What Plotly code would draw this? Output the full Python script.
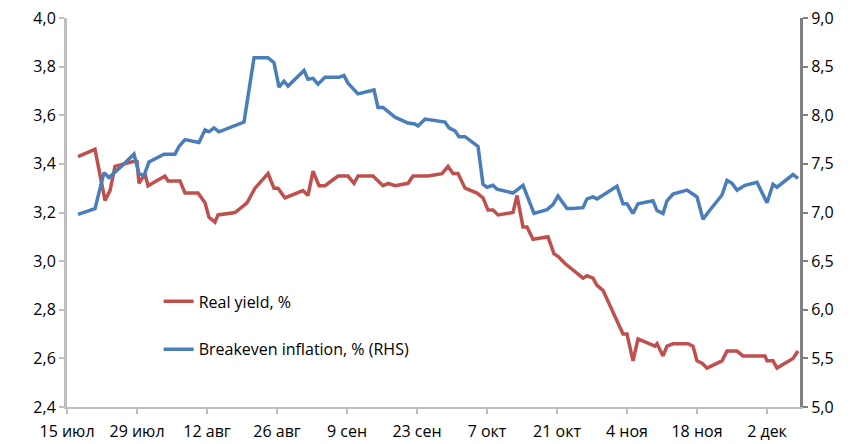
import plotly.graph_objects as go

# days since 15 Jul
ry_days = [2.2, 5.6, 7.6, 8.6, 9.6, 13.2, 14.0, 14.4, 15.6, 16.2, 19.6, 20.2, 22.6, 23.6,
           26.2, 27.6, 28.4, 29.6, 30.2, 33.6, 36.0, 37.6, 40.2, 41.4, 42.2, 43.6, 47.2,
           48.2, 49.2, 50.4, 51.6, 54.2, 56.2, 57.4, 58.2, 61.2, 63.2, 64.2, 65.6, 68.2,
           69.2, 70.6, 72.2, 75.0, 76.2, 77.2, 78.2, 79.6, 82.0, 83.2, 84.2, 85.2, 86.2,
           89.2, 90.0, 91.2, 92.0, 93.2, 96.2, 97.4, 98.2, 99.6, 103.2, 104.0, 105.2,
           106.0, 107.2, 111.2, 112.0, 113.2, 114.2, 117.6, 118.0, 119.2, 120.0, 121.2,
           124.2, 125.2, 126.0, 127.0, 128.0, 131.0, 132.0, 133.0, 134.0, 135.2, 138.6,
           139.6, 140.0, 141.2, 142.0, 145.2, 146.2]
real_yield = [3.43, 3.46, 3.25, 3.29, 3.39, 3.41, 3.41, 3.32, 3.36, 3.31, 3.35, 3.33, 3.33, 3.28,
              3.28, 3.24, 3.18, 3.16, 3.19, 3.20, 3.24, 3.30, 3.36, 3.30, 3.30, 3.26, 3.29,
              3.27, 3.37, 3.31, 3.31, 3.35, 3.35, 3.32, 3.35, 3.35, 3.31, 3.32, 3.31, 3.32,
              3.35, 3.35, 3.35, 3.36, 3.39, 3.36, 3.36, 3.30, 3.28, 3.26, 3.21, 3.21, 3.19,
              3.20, 3.27, 3.14, 3.14, 3.09, 3.10, 3.03, 3.02, 2.99, 2.93, 2.94, 2.93,
              2.90, 2.88, 2.70, 2.70, 2.59, 2.68, 2.65, 2.66, 2.61, 2.65, 2.66,
              2.66, 2.65, 2.59, 2.58, 2.56, 2.59, 2.63, 2.63, 2.63, 2.61, 2.61,
              2.61, 2.59, 2.59, 2.56, 2.60, 2.63]

be_days = [2.2, 5.6, 7.4, 8.4, 11.0, 13.4, 14.4, 15.4, 16.4, 19.4, 21.6, 22.4, 23.6, 26.4,
           27.6, 28.4, 29.4, 30.4, 35.4, 36.4, 37.4, 40.2, 41.4, 42.4, 43.4, 44.2, 47.4,
           48.2, 49.2, 50.2, 51.6, 54.4, 55.4, 56.2, 57.4, 58.2, 61.4, 62.2, 63.2, 65.6,
           68.2, 69.6, 70.2, 71.6, 75.6, 76.4, 77.6, 78.4, 79.6, 82.2, 83.2, 84.0, 85.2,
           86.0, 89.2, 91.2, 93.4, 96.0, 97.2, 98.2, 100.0, 101.0, 103.2, 104.0, 105.2,
           106.0, 110.0, 111.2, 112.0, 113.2, 114.2, 117.2, 118.0, 119.2, 120.0, 121.2,
           124.0, 126.0, 127.2, 128.2, 131.0, 132.0, 133.0, 134.0, 135.6, 138.0, 140.0,
           141.2, 142.0, 145.2, 146.2]
breakeven = [6.98, 7.04, 7.41, 7.36, 7.48, 7.60, 7.40, 7.38, 7.52, 7.60, 7.60, 7.68, 7.75, 7.72,
             7.85, 7.83, 7.87, 7.83, 7.93, 8.28, 8.59, 8.59, 8.54, 8.29, 8.35, 8.30, 8.46,
             8.37, 8.38, 8.32, 8.39, 8.39, 8.41, 8.33, 8.26, 8.22, 8.26, 8.08, 8.08, 7.98,
             7.92, 7.91, 7.89, 7.96, 7.93, 7.87, 7.84, 7.78, 7.78, 7.68, 7.29, 7.26, 7.28,
             7.24, 7.20, 7.28, 6.99, 7.03, 7.08, 7.17, 7.04, 7.04, 7.05, 7.14, 7.16,
             7.14, 7.27, 7.09, 7.09, 6.99, 7.09, 7.12, 7.02, 6.99, 7.12, 7.19,
             7.23, 7.16, 6.93, 7.00, 7.18, 7.33, 7.30, 7.23, 7.28, 7.31, 7.10,
             7.29, 7.26, 7.39, 7.35]

tick_days = [0, 14, 28, 42, 56, 70, 84, 98, 112, 126, 140]
tick_labels = ["15 июл", "29 июл", "12 авг", "26 авг", "9 сен", "23 сен",
               "7 окт", "21 окт", "4 ноя", "18 ноя", "2 дек"]

fig = go.Figure()
fig.add_trace(go.Scatter(
    x=ry_days, y=real_yield, mode="lines", name="Real yield, %",
    line=dict(color="#C0504D", width=3.5), legendgroup="a"
))
fig.add_trace(go.Scatter(
    x=be_days, y=breakeven, mode="lines", name="Breakeven inflation, % (RHS)",
    line=dict(color="#4A7EBB", width=3.5), yaxis="y2", legendgroup="b"
))

font = dict(family="Open Sans, sans-serif", size=16, color="#000000")

fig.update_layout(
    width=852, height=444,
    margin=dict(l=67, r=52, t=18, b=37),
    plot_bgcolor="white", paper_bgcolor="white",
    separators=", ",
    font=font,
    showlegend=True,
    legend=dict(
        x=0.125, y=0.315, xanchor="left", yanchor="top",
        bgcolor="rgba(0,0,0,0)", font=dict(size=16),
        traceorder="grouped", tracegroupgap=24
    ),
    xaxis=dict(
        range=[0, 146.6], tickvals=tick_days, ticktext=tick_labels,
        showgrid=False, zeroline=False, showline=True, automargin=False,
        linecolor="#BFBFBF", linewidth=2, ticklabelstandoff=4,
        ticks="outside", ticklen=5, tickcolor="#BFBFBF", tickwidth=2
    ),
    yaxis=dict(
        range=[2.4, 4.0], dtick=0.2, tickformat=".1f",
        showgrid=False, zeroline=False, showline=True, automargin=False,
        linecolor="#BFBFBF", linewidth=3,
        ticks="outside", ticklen=5, tickcolor="#BFBFBF", tickwidth=2
    ),
    yaxis2=dict(
        range=[5.0, 9.0], dtick=0.5, tickformat=".1f",
        overlaying="y", side="right", automargin=False,
        showgrid=False, zeroline=False, showline=True,
        linecolor="#808080", linewidth=3,
        ticks="outside", ticklen=5, tickcolor="#808080", tickwidth=2
    ),
)

# the page body has a default 8px margin; drop it so the figure fills the window
fig.write_html("out.html", config={"displayModeBar": False},
               post_script="document.body.style.margin='0';")
